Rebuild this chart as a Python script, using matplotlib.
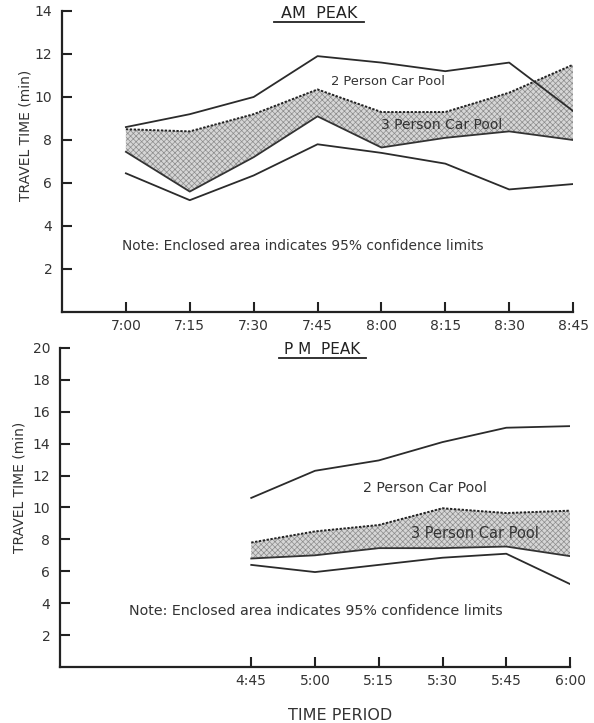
import numpy as np
import matplotlib
matplotlib.use("Agg")
import matplotlib.pyplot as plt

plt.rcParams['font.family'] = ['DejaVu Sans']
plt.rcParams['hatch.linewidth'] = 0.5

# AM peak data (travel time, min)
am_times = ['7:00', '7:15', '7:30', '7:45', '8:00', '8:15', '8:30', '8:45']
am_2p_upper = [8.6, 9.2, 10.0, 11.9, 11.6, 11.2, 11.6, 9.35]
am_2p_lower = [6.45, 5.2, 6.35, 7.8, 7.4, 6.9, 5.7, 5.95]
am_3p_upper = [8.5, 8.4, 9.2, 10.35, 9.3, 9.3, 10.2, 11.5]
am_3p_lower = [7.45, 5.6, 7.2, 9.1, 7.65, 8.1, 8.4, 8.0]

# PM peak data
pm_times = ['4:45', '5:00', '5:15', '5:30', '5:45', '6:00']
pm_2p_upper = [10.6, 12.3, 12.95, 14.1, 15.0, 15.1]
pm_2p_lower = [6.4, 5.95, 6.4, 6.85, 7.1, 5.2]
pm_3p_upper = [7.8, 8.5, 8.9, 9.95, 9.65, 9.8]
pm_3p_lower = [6.8, 7.0, 7.45, 7.45, 7.55, 6.95]

note = 'Note: Enclosed area indicates 95% confidence limits'
ink = '#2b2b2b'
txt = '#333333'

fig = plt.figure(figsize=(5.94, 7.23), dpi=100)
ax1 = fig.add_axes([0.1044, 0.5685, 0.8603, 0.4163])
ax2 = fig.add_axes([0.1010, 0.0775, 0.8586, 0.4412])


def draw(ax, times, up2, lo2, up3, lo3):
    x = np.arange(len(times))
    ax.fill_between(x, lo3, up3, facecolor='#d6d6d6', edgecolor='#8c8c8c',
                    hatch='xxxxxx', linewidth=0)
    ax.plot(x, up3, color='#222222', lw=1.4, ls=(0, (1.2, 0.8)))
    ax.plot(x, lo3, color='#333333', lw=1.3)
    ax.plot(x, up2, color=ink, lw=1.3)
    ax.plot(x, lo2, color=ink, lw=1.3)
    ax.set_xticks(x)
    ax.set_xticklabels(times)
    for s in ['top', 'right']:
        ax.spines[s].set_visible(False)
    for s in ['left', 'bottom']:
        ax.spines[s].set_linewidth(1.6)
        ax.spines[s].set_color('#222222')
    ax.tick_params(direction='in', length=7, width=1.5, colors='#222222',
                   labelsize=10, labelcolor=txt)
    ax.tick_params(axis='x', pad=5)
    ax.tick_params(axis='y', pad=7)


# AM PEAK
draw(ax1, am_times, am_2p_upper, am_2p_lower, am_3p_upper, am_3p_lower)
ax1.set_xlim(-1, 7)
ax1.set_ylim(0, 14)
ax1.set_yticks(range(2, 15, 2))
ax1.text(4.10, 10.7, '2 Person Car Pool', fontsize=9.4, ha='center', va='center', color=txt)
ax1.text(4.95, 8.7, '3 Person Car Pool', fontsize=10, ha='center', va='center', color=txt)
ax1.text(-0.06, 3.07, note, fontsize=9.9, ha='left', va='center', color=txt)
ax1.text(0.503, 0.993, 'AM  PEAK', transform=ax1.transAxes, fontsize=11.5,
         ha='center', va='center', color='#222222')
ax1.plot([0.414, 0.590], [0.965, 0.965], transform=ax1.transAxes,
         color='#222222', lw=1.3, clip_on=False)

# PM PEAK
draw(ax2, pm_times, pm_2p_upper, pm_2p_lower, pm_3p_upper, pm_3p_lower)
ax2.set_xlim(-3, 5)
ax2.set_ylim(0, 20)
ax2.set_yticks(range(2, 21, 2))
ax2.text(2.73, 11.2, '2 Person Car Pool', fontsize=10.2, ha='center', va='center', color=txt)
ax2.text(3.51, 8.34, '3 Person Car Pool', fontsize=10.5, ha='center', va='center', color=txt)
ax2.text(-1.92, 3.5, note, fontsize=10.3, ha='left', va='center', color=txt)
ax2.text(0.514, 0.994, 'P M  PEAK', transform=ax2.transAxes, fontsize=11,
         ha='center', va='center', color='#222222')
ax2.plot([0.43, 0.60], [0.970, 0.970], transform=ax2.transAxes,
         color='#222222', lw=1.3, clip_on=False)

fig.text(26 / 594, 1 - 135 / 723, 'TRAVEL TIME (min)', rotation=90, fontsize=10,
         ha='center', va='center', color=txt)
fig.text(20 / 594, 1 - 487 / 723, 'TRAVEL TIME (min)', rotation=90, fontsize=10,
         ha='center', va='center', color=txt)
fig.text(0.572, 0.011, 'TIME PERIOD', fontsize=11.5, ha='center', va='center', color=txt)

fig.savefig('out.png', dpi=100)
